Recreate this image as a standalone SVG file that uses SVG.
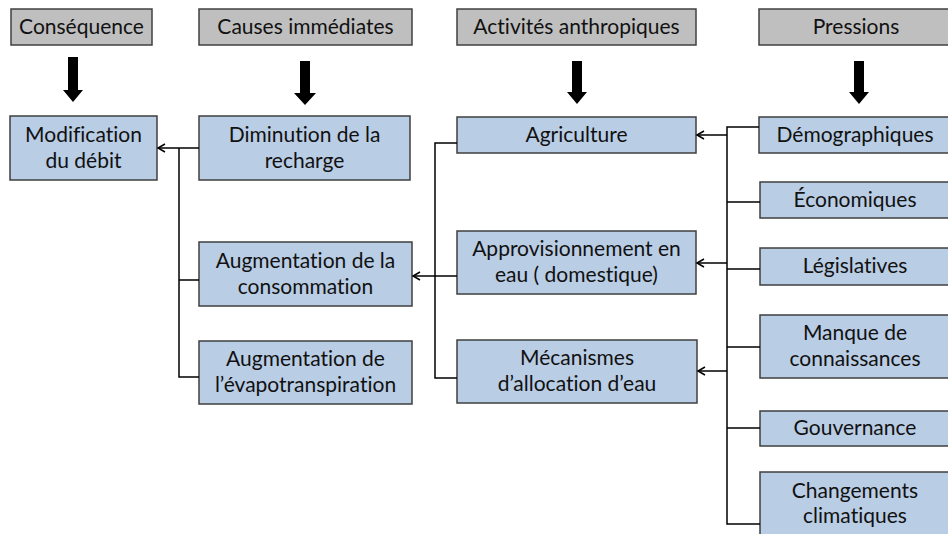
<svg xmlns="http://www.w3.org/2000/svg" width="948" height="534" viewBox="0 0 948 534">
<defs>
<style>
.hdr{fill:#bfbfbf;stroke:#404040;stroke-width:1.5}
.box{fill:#b9cde5;stroke:#3f3f3f;stroke-width:1.5}
text{font-family:Lato,"Open Sans","Liberation Sans",sans-serif;font-size:21px;fill:#111;text-anchor:middle;font-variant-ligatures:none;font-feature-settings:"liga" 0,"dlig" 0}
.ln{fill:none;stroke:#000;stroke-width:1.5}
.big{fill:#000}
</style>
<marker id="ah" markerWidth="10" markerHeight="10" refX="8" refY="5" orient="auto" markerUnits="userSpaceOnUse">
<path d="M1,1 L8,5 L1,9" fill="none" stroke="#000" stroke-width="1.5"/>
</marker>
</defs>
<rect width="948" height="534" fill="#fff"/>

<g id="h-consequence"><rect class="hdr" x="11" y="9" width="141" height="36"/><text x="81.5" y="34">Conséquence</text></g>
<g id="h-causes"><rect class="hdr" x="199" y="9" width="213" height="36"/><text x="305.5" y="34">Causes immédiates</text></g>
<g id="h-activites"><rect class="hdr" x="457" y="9" width="239" height="36"/><text x="576.5" y="34">Activités anthropiques</text></g>
<g id="h-pressions"><rect class="hdr" x="759" y="9" width="194" height="36"/><text x="856" y="34">Pressions</text></g>

<g id="big-arrows">
<polygon class="big" points="68,57 78,57 78,90 83,90 73,102 63,90 68,90"/>
<polygon class="big" points="300,61 310,61 310,93 316,93 305,105 294,93 300,93"/>
<polygon class="big" points="572,61 582,61 582,92 587,92 577,104 567,92 572,92"/>
<polygon class="big" points="854,61 864,61 864,92 869,92 859,104 849,92 854,92"/>
</g>

<g id="n-modification"><rect class="box" x="10" y="116" width="147" height="64"/><text x="83.5" y="142">Modification</text><text x="83.5" y="168">du débit</text></g>
<g id="n-diminution"><rect class="box" x="199" y="116" width="211" height="64"/><text x="304.5" y="142">Diminution de la</text><text x="304.5" y="168">recharge</text></g>
<g id="n-conso"><rect class="box" x="199" y="242" width="213" height="64"/><text x="305.5" y="268">Augmentation de la</text><text x="305.5" y="294">consommation</text></g>
<g id="n-evapo"><rect class="box" x="199" y="341" width="213" height="63"/><text x="305.5" y="366">Augmentation de</text><text x="305.5" y="392">l’évapotranspiration</text></g>

<g id="n-agriculture"><rect class="box" x="457" y="117" width="239" height="36"/><text x="576.5" y="142">Agriculture</text></g>
<g id="n-approvisionnement"><rect class="box" x="457" y="231" width="239" height="63"/><text x="576.5" y="256">Approvisionnement en</text><text x="576.5" y="282">eau ( domestique)</text></g>
<g id="n-mecanismes"><rect class="box" x="457" y="340" width="240" height="63"/><text x="577" y="365">Mécanismes</text><text x="577" y="391">d’allocation d’eau</text></g>

<g id="n-demographiques"><rect class="box" x="759" y="117" width="194" height="36"/><text x="855" y="142">Démographiques</text></g>
<g id="n-economiques"><rect class="box" x="760" y="182" width="193" height="36"/><text x="855" y="207">Économiques</text></g>
<g id="n-legislatives"><rect class="box" x="760" y="248" width="193" height="37"/><text x="855" y="273">Législatives</text></g>
<g id="n-manque"><rect class="box" x="760" y="315" width="193" height="63"/><text x="855" y="340">Manque de</text><text x="855" y="366">connaissances</text></g>
<g id="n-gouvernance"><rect class="box" x="760" y="411" width="193" height="35"/><text x="855" y="435">Gouvernance</text></g>
<g id="n-changements"><rect class="box" x="760" y="472" width="193" height="70"/><text x="855" y="498">Changements</text><text x="855" y="523">climatiques</text></g>

<g id="connectors">
<path class="ln" d="M199,148 H158" marker-end="url(#ah)"/>
<path class="ln" d="M179,148 V377 H199 M179,280 H199"/>
<path class="ln" d="M457,276 H413" marker-end="url(#ah)"/>
<path class="ln" d="M457,143 H435 V378 H457"/>
<path class="ln" d="M759,127 H727 V524 H760 M727,202 H760 M727,269 H760 M727,347 H760 M727,428 H760"/>
<path class="ln" d="M727,135 H697" marker-end="url(#ah)"/>
<path class="ln" d="M727,263 H697" marker-end="url(#ah)"/>
<path class="ln" d="M727,371 H698" marker-end="url(#ah)"/>
</g>
</svg>
